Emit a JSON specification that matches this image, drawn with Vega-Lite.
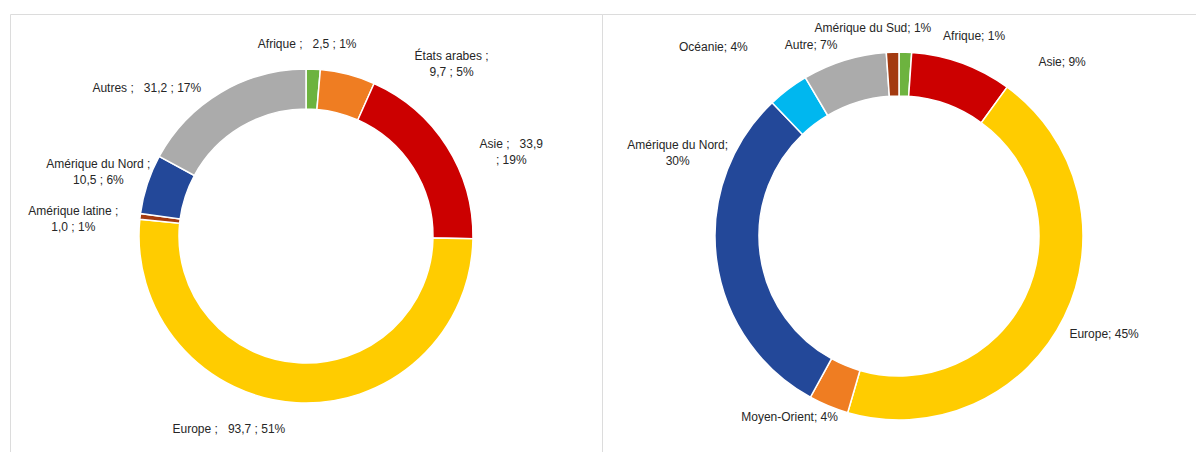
{
  "$schema": "https://vega.github.io/schema/vega-lite/v6.json",
  "padding": {"left": 9, "top": 13, "right": 0, "bottom": 0},
  "spacing": 0,
  "bounds": "flush",
  "background": "white",
  "config": {
    "view": {"stroke": "#DCDCDC", "strokeWidth": 1},
    "text": {"font": "Liberation Sans", "fontSize": 12, "fill": "#262626", "lineBreak": "\n", "lineHeight": 16}
  },
  "datasets": {
    "gauche": [
      {"rang": 1, "region": "Afrique", "valeur": 2.5, "etiquette": "Afrique ;\u00a0\u00a0 2,5 ; 1%"},
      {"rang": 2, "region": "États arabes", "valeur": 9.7, "etiquette": "États arabes ;\n9,7 ; 5%"},
      {"rang": 3, "region": "Asie", "valeur": 33.9, "etiquette": "Asie ;\u00a0\u00a0 33,9\n; 19%"},
      {"rang": 4, "region": "Europe", "valeur": 93.7, "etiquette": "Europe ;\u00a0\u00a0 93,7 ; 51%"},
      {"rang": 5, "region": "Amérique latine", "valeur": 1.0, "etiquette": "Amérique latine ;\n1,0 ; 1%"},
      {"rang": 6, "region": "Amérique du Nord", "valeur": 10.5, "etiquette": "Amérique du Nord ;\n10,5 ; 6%"},
      {"rang": 7, "region": "Autres", "valeur": 31.2, "etiquette": "Autres ;\u00a0\u00a0 31,2 ; 17%"}
    ],
    "droite": [
      {"rang": 1, "region": "Afrique", "valeur": 1.1, "etiquette": "Afrique; 1%"},
      {"rang": 2, "region": "Asie", "valeur": 8.9, "etiquette": "Asie; 9%"},
      {"rang": 3, "region": "Europe", "valeur": 44.5, "etiquette": "Europe; 45%"},
      {"rang": 4, "region": "Moyen-Orient", "valeur": 3.5, "etiquette": "Moyen-Orient; 4%"},
      {"rang": 5, "region": "Amérique du Nord", "valeur": 29.9, "etiquette": "Amérique du Nord;\n30%"},
      {"rang": 6, "region": "Océanie", "valeur": 3.6, "etiquette": "Océanie; 4%"},
      {"rang": 7, "region": "Autre", "valeur": 7.4, "etiquette": "Autre; 7%"},
      {"rang": 8, "region": "Amérique du Sud", "valeur": 1.1, "etiquette": "Amérique du Sud; 1%"}
    ]
  },
  "hconcat": [
    {
      "width": 592,
      "height": 444,
      "view": {"stroke": "#DCDCDC", "strokeWidth": 1},
      "data": {"name": "gauche"},
      "encoding": {
        "theta": {"field": "valeur", "type": "quantitative", "stack": true},
        "order": {"field": "rang", "type": "quantitative"}
      },
      "layer": [
        {
          "mark": {"type": "arc", "innerRadius": 127, "outerRadius": 167, "stroke": "white", "strokeWidth": 1.5},
          "encoding": {
            "color": {
              "field": "region", "type": "nominal", "legend": null,
              "scale": {
                "domain": ["Afrique", "États arabes", "Asie", "Europe", "Amérique latine", "Amérique du Nord", "Autres", "Moyen-Orient", "Océanie", "Autre", "Amérique du Sud"],
                "range": ["#6DB33F", "#EF7D22", "#CC0000", "#FFCC00", "#A33A10", "#234899", "#ABABAB", "#EF7D22", "#00B7EF", "#ABABAB", "#A33A10"]
              }
            }
          }
        },
        {
          "mark": {
            "type": "text", "radius": 190, "align": "center", "baseline": "middle",
            "dx": {"expr": "({'Afrique': -7, 'États arabes': 98, 'Asie': 45, 'Europe': -66, 'Amérique latine': -44, 'Amérique du Nord': -27, 'Autres': -62})[datum.region]"},
            "dy": {"expr": "({'Afrique': -2, 'États arabes': 4, 'Asie': 10, 'Europe': 3, 'Amérique latine': -3, 'Amérique du Nord': -13, 'Autres': 15})[datum.region]"}
          },
          "encoding": {"text": {"field": "etiquette", "type": "nominal"}}
        }
      ]
    },
    {
      "width": 594,
      "height": 444,
      "view": {"stroke": "#DCDCDC", "strokeWidth": 1},
      "data": {"name": "droite"},
      "encoding": {
        "theta": {"field": "valeur", "type": "quantitative", "stack": true},
        "order": {"field": "rang", "type": "quantitative"}
      },
      "layer": [
        {
          "mark": {"type": "arc", "innerRadius": 140, "outerRadius": 184, "stroke": "white", "strokeWidth": 1.5},
          "encoding": {
            "color": {
              "field": "region", "type": "nominal", "legend": null,
              "scale": {
                "domain": ["Afrique", "États arabes", "Asie", "Europe", "Amérique latine", "Amérique du Nord", "Autres", "Moyen-Orient", "Océanie", "Autre", "Amérique du Sud"],
                "range": ["#6DB33F", "#EF7D22", "#CC0000", "#FFCC00", "#A33A10", "#234899", "#ABABAB", "#EF7D22", "#00B7EF", "#ABABAB", "#A33A10"]
              }
            }
          }
        },
        {
          "mark": {
            "type": "text", "radius": 205, "align": "center", "baseline": "middle",
            "dx": {"expr": "({'Afrique': 68, 'Asie': 93, 'Europe': 21, 'Moyen-Orient': -31, 'Amérique du Nord': -18, 'Océanie': -62, 'Autre': -27, 'Amérique du Sud': -19})[datum.region]"},
            "dy": {"expr": "({'Afrique': 5, 'Asie': 19, 'Europe': 8, 'Moyen-Orient': -8, 'Amérique du Nord': -117, 'Océanie': -25, 'Autre': 5, 'Amérique du Sud': -3})[datum.region]"}
          },
          "encoding": {"text": {"field": "etiquette", "type": "nominal"}}
        }
      ]
    }
  ]
}
